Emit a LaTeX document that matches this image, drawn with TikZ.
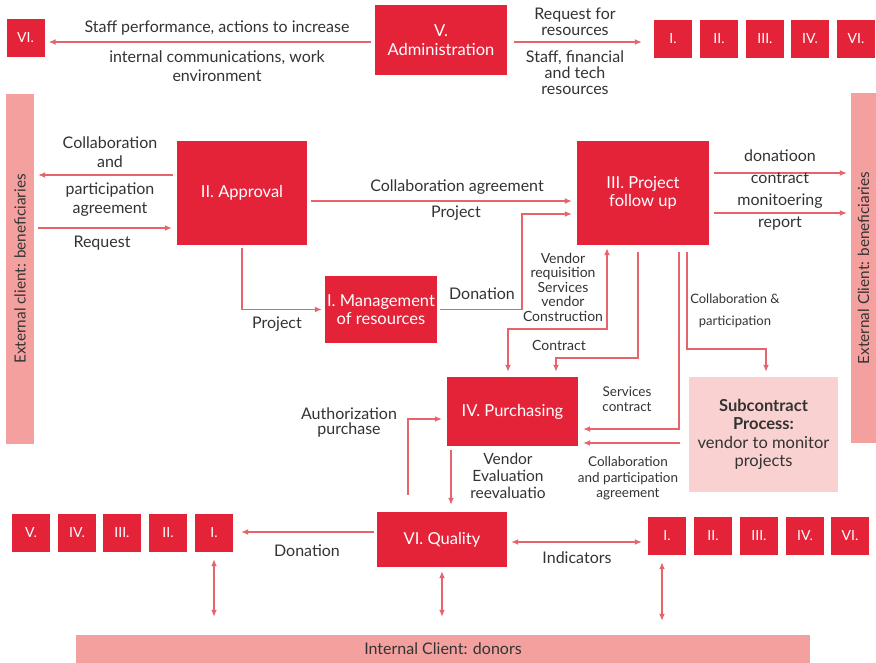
\documentclass[tikz,border=0pt]{standalone}
\usepackage{fontspec}
\setmainfont{Lato}
\usetikzlibrary{arrows.meta,calc}
\definecolor{boxred}{HTML}{E42339}
\definecolor{arrc}{HTML}{E8646C}
\definecolor{barpink}{HTML}{F4A09F}
\definecolor{subpink}{HTML}{F9D1D0}
\definecolor{txtc}{HTML}{333333}
\tikzset{
  rbox/.style={rectangle, fill=boxred, text=white, align=center, inner sep=0pt,
    font=\fontsize{16.5}{18.5}\selectfont},
  sbox/.style={rbox, minimum width=38, minimum height=38, font=\fontsize{14}{15}\selectfont},
  pbar/.style={rectangle, fill=barpink, inner sep=0pt},
  lbl/.style={text=txtc, align=center, inner sep=0pt, font=\fontsize{16}{19}\selectfont},
  slbl/.style={lbl, font=\fontsize{13.5}{14.5}\selectfont},
  arr/.style={draw=arrc, line width=1.3pt, -{Latex[length=7pt,width=6pt]}},
  darr/.style={draw=arrc, line width=1.3pt, {Latex[length=7pt,width=6pt]}-{Latex[length=7pt,width=6pt]}},
}
\begin{document}
\begin{tikzpicture}[x=1pt,y=-1pt]
\useasboundingbox (0,0) rectangle (876,663);
% boxes
\node[sbox] (vitl) at (25.5,38) {VI.};
\node[rbox, minimum width=132, minimum height=70] (adm) at (441,40) {V.\\Administration};
\node[sbox] (tr1) at (673,39) {I.};
\node[sbox] (tr2) at (719,39) {II.};
\node[sbox] (tr3) at (765,39) {III.};
\node[sbox] (tr4) at (810,39) {IV.};
\node[sbox] (tr6) at (856,39) {VI.};
\node[pbar, minimum width=28, minimum height=350] (extL) at (20,269) {};
\node[lbl, rotate=90, font=\fontsize{15.3}{18}\selectfont] at (extL) {External client: beneficiaries};
\node[pbar, minimum width=25, minimum height=350] (extR) at (863.5,268) {};
\node[lbl, rotate=90, font=\fontsize{15.3}{18}\selectfont] at (extR) {External Client: beneficiaries};
\node[rbox, minimum width=130, minimum height=104] (app) at (242,193) {II. Approval};
\node[rbox, minimum width=112, minimum height=67] (mgmt) at (381,309.5) {I. Management\\of resources};
\node[rbox, minimum width=132, minimum height=104] (pfu) at (643,193) {III. Project\\follow up};
\node[rbox, minimum width=131, minimum height=69] (pur) at (512.5,411.5) {IV. Purchasing};
\node[rectangle, fill=subpink, text=txtc, align=center, inner sep=0pt, minimum width=149, minimum height=115,
  font=\fontsize{16.5}{18.5}\selectfont] (sub) at (763.5,434.5) {\textbf{Subcontract}\\\textbf{Process:}\\vendor to monitor\\projects};
\node[rbox, minimum width=130, minimum height=55] (qual) at (442,539.5) {VI. Quality};
\node[sbox] (bl5) at (31,533) {V.};
\node[sbox] (bl4) at (77,533) {IV.};
\node[sbox] (bl3) at (122,533) {III.};
\node[sbox] (bl2) at (168,533) {II.};
\node[sbox] (bl1) at (214,533) {I.};
\node[sbox] (br1) at (667,536) {I.};
\node[sbox] (br2) at (713,536) {II.};
\node[sbox] (br3) at (759,536) {III.};
\node[sbox] (br4) at (805,536) {IV.};
\node[sbox] (br6) at (850,536) {VI.};
\node[pbar, minimum width=734, minimum height=28, text=txtc, font=\fontsize{16}{18}\selectfont] (intc) at (443,649) {Internal Client: donors};
% connectors
\draw[arr, shorten <=4pt, shorten >=4pt] (adm.west |- 0,42) -- (vitl.east |- 0,42);
\draw[arr, shorten <=7pt, shorten >=12pt] (adm.east |- 0,42) -- (tr1.west |- 0,42);
\draw[arr, shorten <=4pt, shorten >=4pt] (app.west |- 0,175) -- (extL.east |- 0,175);
\draw[arr, shorten <=4pt, shorten >=5pt] (extL.east |- 0,228) -- (app.west |- 0,228);
\draw[arr, shorten <=4pt, shorten >=5pt] (app.east |- 0,201) -- (pfu.west |- 0,201);
\draw[arr, shorten <=3pt, shorten >=3pt] (app.south) |- (mgmt.west);
\draw[arr, shorten <=3pt, shorten >=5pt] (mgmt.east) -- (522,309.5) -- (522,214) -- (pfu.west |- 0,214);
\draw[arr, shorten <=5pt, shorten >=4pt] (pfu.east |- 0,173) -- (extR.west |- 0,173);
\draw[arr, shorten <=5pt, shorten >=4pt] (pfu.east |- 0,213) -- (extR.west |- 0,213);
\draw[darr, shorten <=5pt, shorten >=3pt] (pur.north -| 508,0) -- (508,329) -- (607,329) -- (pfu.south -| 607,0);
\draw[arr, shorten <=7pt, shorten >=5pt] (pfu.south -| 638,0) -- (638,358) -- (556,358) -- (pur.north -| 556,0);
\draw[arr, shorten <=7pt, shorten >=5pt] (pfu.south -| 679,0) |- (pur.east |- 0,429);
\draw[arr, shorten <=7pt, shorten >=5pt] (pfu.south -| 687,0) -- (687,349) -- (766,349) -- (sub.north -| 766,0);
\draw[arr, shorten <=9pt, shorten >=5pt] (sub.west |- 0,443) -- (pur.east |- 0,443);
\draw[arr, shorten <=17pt, shorten >=5pt] (qual.north -| 408,0) |- (pur.west |- 0,419);
\draw[arr, shorten <=4pt, shorten >=7pt] (pur.south -| 451,0) -- (qual.north -| 451,0);
\draw[arr, shorten <=3pt, shorten >=8pt] (qual.west |- 0,532) -- (bl1.east |- 0,532);
\draw[darr, shorten <=4pt, shorten >=6pt] (qual.east |- 0,542) -- (br1.west |- 0,542);
\draw[darr, shorten <=7pt, shorten >=18pt] (bl1.south) -- (bl1.south |- intc.north);
\draw[darr, shorten <=4pt, shorten >=18pt] (qual.south) -- (qual.south |- intc.north);
\draw[darr, shorten <=7pt, shorten >=14pt] (br1.south -| 662,0) -- (intc.north -| 662,0);
% labels
\node[lbl] (l1) at (217,28) {Staff performance, actions to increase};
\node[lbl] (l2) at (217,66.5) {internal communications, work\\environment};
\node[lbl, font=\fontsize{16}{16}\selectfont] (l3) at (575,22) {Request for\\resources};
\node[lbl, font=\fontsize{16}{16}\selectfont] (l4) at (575,73) {Staff, financial\\and tech\\resources};
\node[lbl] (l5) at (110,152.5) {Collaboration\\and};
\node[lbl] (l6) at (110,200) {participation\\agreement};
\node[lbl] (l7) at (102,243) {Request};
\node[lbl] (l8) at (457,187) {Collaboration agreement};
\node[lbl] (l9) at (456,213) {Project};
\node[lbl] (l10) at (482,294) {Donation};
\node[lbl] (l11) at (277,324) {Project};
\node[lbl, font=\fontsize{16}{22}\selectfont] (l12) at (780,189.5) {donatioon\\contract\\monitoering\\report};
\node[slbl, font=\fontsize{14}{14.5}\selectfont] (l13) at (563,287) {Vendor\\requisition\\Services\\vendor\\Construction};
\node[slbl, font=\fontsize{14}{15}\selectfont] (l14) at (559,345) {Contract};
\node[slbl, font=\fontsize{13}{14}\selectfont] (l15) at (735,311) {Collaboration \&\\[8pt]participation};
\node[slbl] (l16) at (627,399) {Services\\contract};
\node[slbl, font=\fontsize{13.5}{15.5}\selectfont] (l17) at (628,478.5) {Collaboration\\and participation\\agreement};
\node[lbl, font=\fontsize{16}{15}\selectfont] (l18) at (349,422.5) {Authorization\\purchase};
\node[lbl, font=\fontsize{15.5}{17}\selectfont] (l19) at (508,476) {Vendor\\Evaluation\\reevaluatio};
\node[lbl] (l20) at (307,551) {Donation};
\node[lbl] (l21) at (577,558) {Indicators};
\end{tikzpicture}
\end{document}
